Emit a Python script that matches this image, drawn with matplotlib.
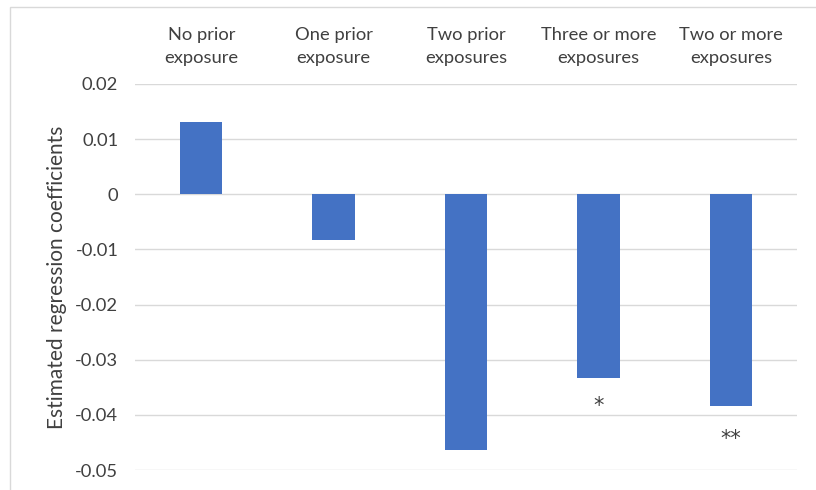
import matplotlib.pyplot as plt
from matplotlib.patches import Rectangle

plt.rcParams['font.family'] = ['Lato', 'DejaVu Sans']

# data
categories = ['No prior\nexposure', 'One prior\nexposure', 'Two prior\nexposures',
              'Three or more\nexposures', 'Two or more\nexposures']
coefs = [0.0131, -0.0083, -0.0464, -0.0333, -0.0384]
stars = ['', '', '', '*', '**']
star_y = [0, 0, 0, -0.0384, -0.0443]
yticks = [0.02, 0.01, 0, -0.01, -0.02, -0.03, -0.04, -0.05]
ytick_labels = ['0.02', '0.01', '0', '-0.01', '-0.02', '-0.03', '-0.04', '-0.05']

grey = '#404040'
fig = plt.figure(figsize=(8.16, 4.9), dpi=100)
ax = fig.add_axes([0.1654, 0.0408, 0.8116, 0.7878])

x = range(len(categories))
ax.bar(x, coefs, width=0.32, color='#4472C4', zorder=3)

for i, s in enumerate(stars):
    if s:
        ax.text(i, star_y[i], s, ha='center', va='center', fontsize=15,
                color='#404040', family='DejaVu Sans')

ax.set_ylim(-0.05, 0.02)
ax.set_xlim(-0.5, len(categories) - 0.5)
ax.set_yticks(yticks)
ax.set_yticklabels(ytick_labels)
ax.yaxis.grid(True, color='#D9D9D9', linewidth=1, zorder=0)
ax.xaxis.tick_top()
ax.set_xticks(list(x))
ax.set_xticklabels(categories, linespacing=1.5)
ax.tick_params(axis='x', length=0, pad=13, labelsize=13.2, labelcolor=grey)
ax.tick_params(axis='y', length=0, pad=12, labelsize=13.2, labelcolor=grey)
for sp in ax.spines.values():
    sp.set_visible(False)

ax.set_ylabel('Estimated regression coefficients', fontsize=15, color='#404040', labelpad=6)

# light chart border like the spreadsheet frame
fig.patches.append(Rectangle((10 / 816, -0.1), 1.2, 1 - 7 / 490 + 0.1, transform=fig.transFigure,
                             fill=False, edgecolor='#D9D9D9', linewidth=1))

fig.savefig('out.png', dpi=100)
